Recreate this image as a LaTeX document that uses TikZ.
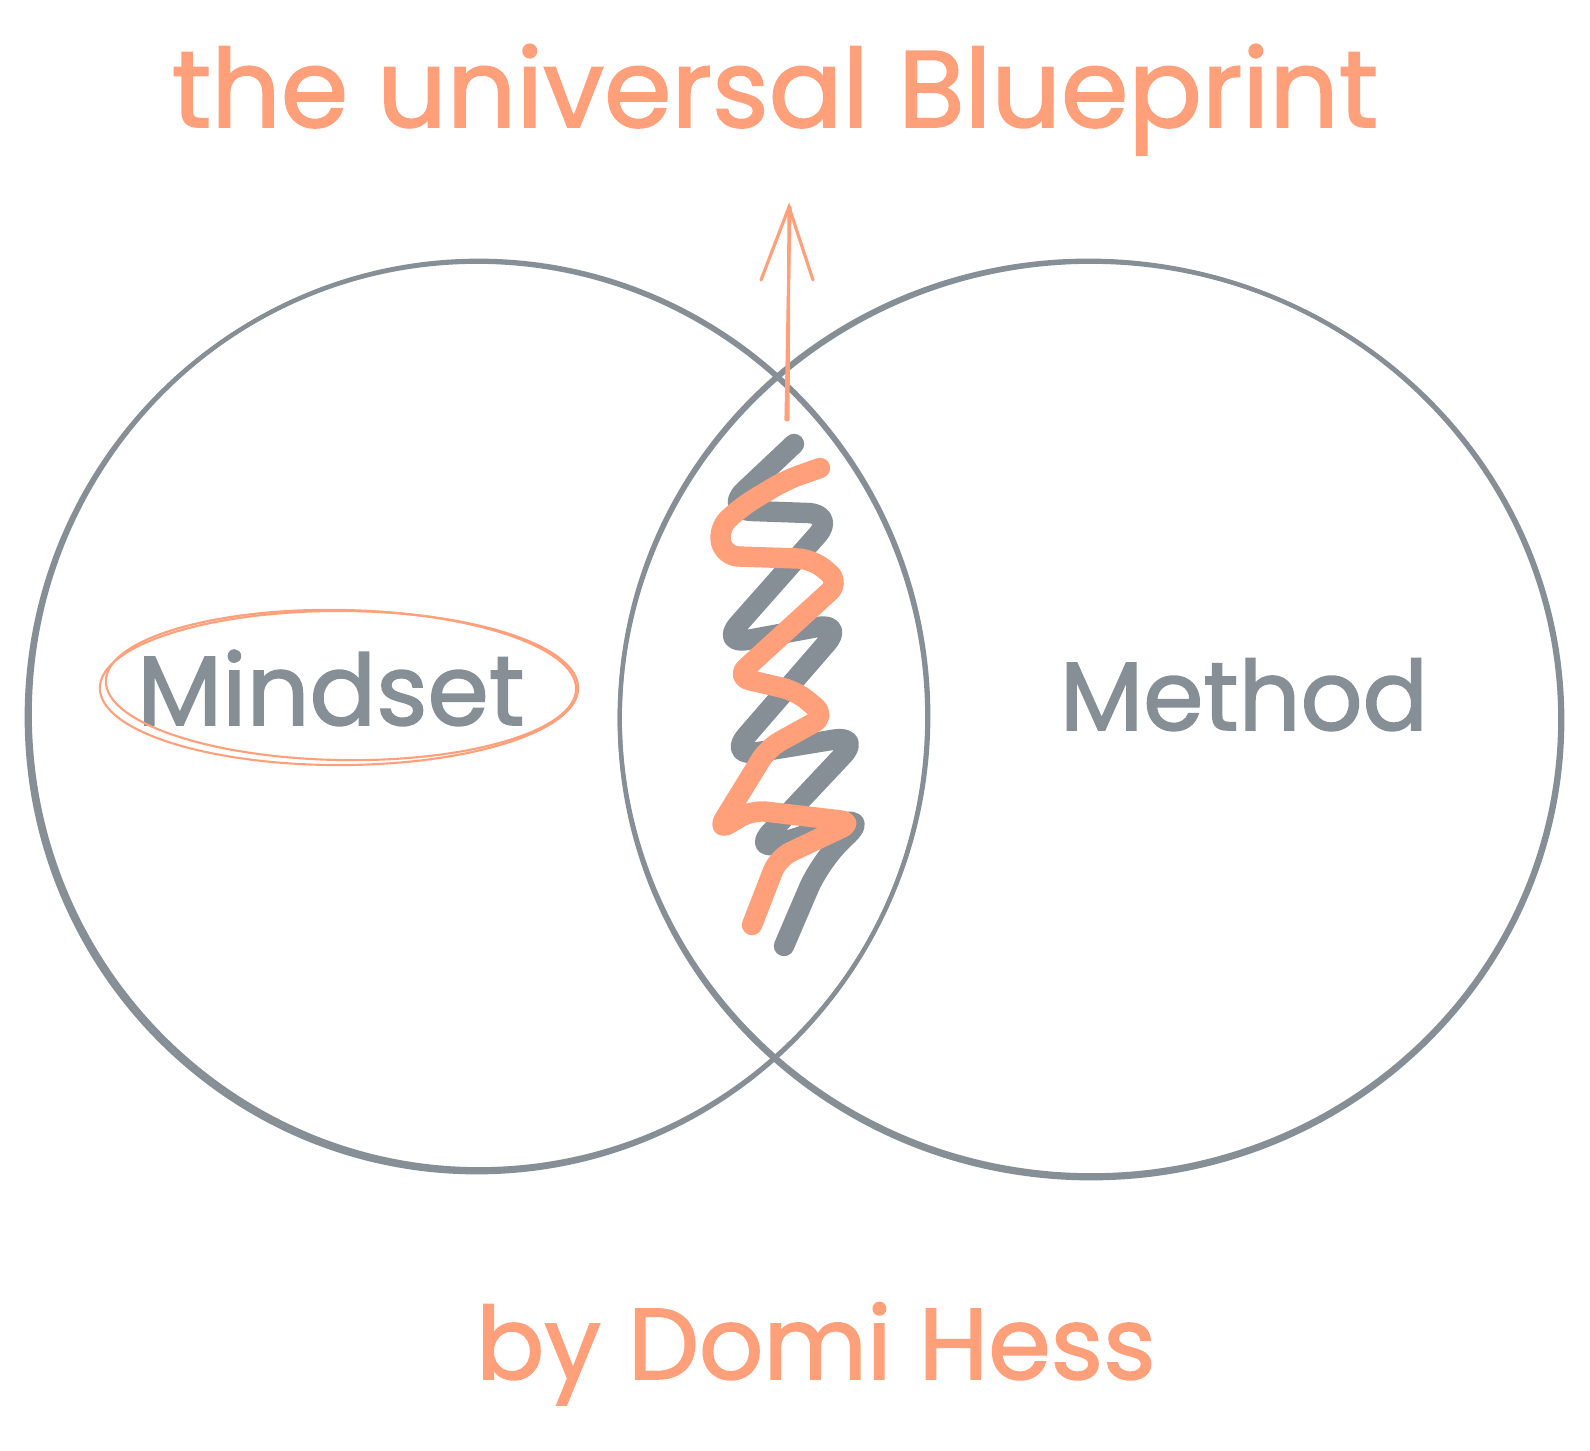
\documentclass[tikz,border=0pt]{standalone}
\usepackage{fontspec}
\setmainfont{Poppins}
\newfontfamily\inkfont{Poppins}[FakeBold=1.6]
\usetikzlibrary{positioning}
\definecolor{inkgray}{HTML}{868E96}
\definecolor{inkorange}{HTML}{FFA07A}

\begin{document}
\begin{tikzpicture}[x=0.01cm, y=-0.01cm,
  ring/.style={draw=inkgray, line width=1.2pt},
  halo/.style={draw=inkorange, line width=0.6pt},
  scrawl/.style={line width=5.8pt, line cap=round, line join=round, rounded corners=8pt},
  pointer/.style={draw=inkorange, line width=0.9pt, line cap=round},
  words/.style={inner sep=0pt, anchor=base, font=\inkfont}]
  \useasboundingbox[fill=white] (0,0) rectangle (1590,1451);

  % the two sets
  \draw[ring] (477,717) ellipse [x radius=4.50cm, y radius=4.55cm];
  \draw[ring, rotate around={3:(479,715)}] (479,715) ellipse [x radius=4.49cm, y radius=4.54cm];
  \draw[ring] (1091,720) ellipse [x radius=4.71cm, y radius=4.58cm];
  \draw[ring, rotate around={-3:(1090,718)}] (1090,718) ellipse [x radius=4.70cm, y radius=4.57cm];

  % labels
  \node[words, text=inkorange] (title) at (775,127) {\resizebox{12.06cm}{!}{the universal Blueprint}};
  \node[words, text=inkgray] (mindset) at (331,725) {\resizebox{3.87cm}{!}{Mindset}};
  \node[words, text=inkgray] (method) at (1244,730) {\resizebox{3.68cm}{!}{Method}};
  \node[words, text=inkorange] (byline) at (816,1379) {\resizebox{6.79cm}{!}{by Domi Hess}};

  \draw[halo] (339,688) ellipse [x radius=2.39cm, y radius=0.77cm];
  \draw[halo, rotate around={-1:(341,685)}] (341,685) ellipse [x radius=2.35cm, y radius=0.75cm];

  % overlap scribbles
  \draw[scrawl, inkgray] (794,444) -- (724,510) -- (836,514) -- (720,645) -- (845,622)
    -- (728,757) -- (862,735) -- (752,852) -- (868,815) -- (820,862) -- (784,946);
  \draw[scrawl, inkorange, rounded corners=4pt] (820,468) -- (786,480) -- (744,505) -- (718,528)
    -- (724,556) -- (812,559) -- (840,582) -- (736,677) -- (796,691) -- (826,716) -- (768,748)
    -- (717,831) -- (752,810) -- (854,822) -- (778,858) -- (752,925);

  % arrow up to the title
  \coordinate (arrowfoot) at (788,420);
  \coordinate (arrowtip) at (789,207);
  \draw[pointer] (arrowfoot) -- (arrowtip);
  \draw[pointer] ([xshift=-0.02cm]arrowfoot) -- ([xshift=0.01cm]arrowtip);
  \draw[pointer] (761,280) -- (arrowtip) -- (813,280);
\end{tikzpicture}
\end{document}
